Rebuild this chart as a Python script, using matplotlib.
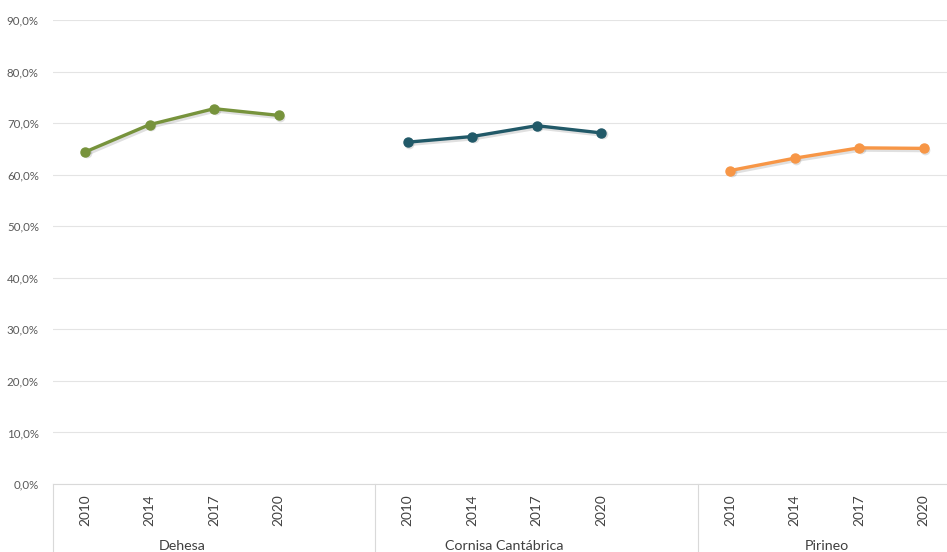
import matplotlib.pyplot as plt
from matplotlib.transforms import blended_transform_factory, ScaledTranslation
import numpy as np

plt.rcParams['font.family'] = ['Lato', 'DejaVu Sans']

years = ['2010', '2014', '2017', '2020']
regions = ['Dehesa', 'Cornisa Cantábrica', 'Pirineo']
dehesa = [64.4, 69.7, 72.8, 71.5]
cornisa = [66.3, 67.4, 69.5, 68.1]
pirineo = [60.8, 63.2, 65.2, 65.1]
colors = ['#77933C', '#215968', '#F79646']
yticks = [0, 10, 20, 30, 40, 50, 60, 70, 80, 90]

W, H = 947, 552
fig = plt.figure(figsize=(W / 100, H / 100), dpi=100)
left, right, top, bottom = 52.75, 956, 20, 484
ax = fig.add_axes([left / W, (H - bottom) / H, (right - left) / W, (bottom - top) / H])

ax.set_ylim(0, 90)
ax.set_xlim(-0.5, 13.5)
for s in ['top', 'right', 'left']:
    ax.spines[s].set_visible(False)
ax.spines['bottom'].set_color('#D9D9D9')
ax.set_yticks(yticks)
ax.set_yticklabels([('%.1f%%' % v).replace('.', ',') for v in yticks],
                   fontsize=8.3, color='#595959')
ax.tick_params(axis='y', length=0, pad=10)
ax.set_xticks([])
ax.grid(axis='y', color='#E4E4E4', linewidth=0.8)
ax.set_axisbelow(True)

series = [dehesa, cornisa, pirineo]
trans = blended_transform_factory(ax.transData, ax.transAxes)
shadow = ax.transData + ScaledTranslation(1.5 / 100, -1.5 / 100, fig.dpi_scale_trans)
px = 1.0 / (bottom - top)
for g, (vals, c) in enumerate(zip(series, colors)):
    xs = np.arange(len(years)) + g * 5
    # soft shadow under each line
    ax.plot(xs, vals, color='#000000', alpha=0.12, linewidth=3.5, marker='o',
            markersize=7, markeredgewidth=0, transform=shadow)
    ax.plot(xs, vals, color=c, linewidth=2.4, marker='o', markersize=6.5)
    for x, yr in zip(xs, years):
        ax.text(x, -26 * px, yr, transform=trans, rotation=90, ha='center',
                va='center', fontsize=9.8, color='#404040')
    ax.text(g * 5 + 1.5, -62 * px, regions[g], transform=trans, ha='center',
            va='center', fontsize=10.3, color='#404040')

# group separators on the category axis
for xsep in [-0.5, 4.5, 9.5]:
    ax.plot([xsep, xsep], [0, -80 * px], transform=trans, color='#D9D9D9',
            linewidth=0.8, clip_on=False)

fig.savefig('out.png', dpi=100)
